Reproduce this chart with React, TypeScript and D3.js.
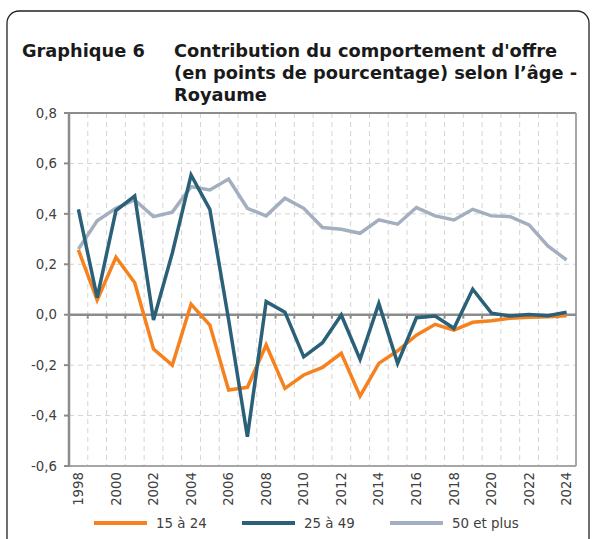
import React from "react";
import * as d3 from "d3";

const years = d3.range(1998, 2025).map(String);
const yTicks = [-0.6, -0.4, -0.2, 0, 0.2, 0.4, 0.6, 0.8];
const seriesNames = ["15 à 24", "25 à 49", "50 et plus"];
const colors = ["#F5821F", "#2A6078", "#A3AFBE"];

const s1524 = [0.257, 0.058, 0.228, 0.127, -0.136, -0.2, 0.042, -0.041, -0.299, -0.288, -0.12, -0.292, -0.239, -0.209, -0.153, -0.323, -0.193, -0.143, -0.081, -0.038, -0.061, -0.03, -0.024, -0.014, -0.01, -0.008, -0.004];
const s2549 = [0.418, 0.068, 0.413, 0.471, -0.021, 0.244, 0.554, 0.418, -0.02, -0.484, 0.052, 0.01, -0.167, -0.111, -0.001, -0.177, 0.045, -0.193, -0.012, -0.005, -0.054, 0.101, 0.006, -0.005, 0.001, -0.004, 0.01];
const s50 = [0.26, 0.373, 0.422, 0.455, 0.389, 0.407, 0.508, 0.495, 0.538, 0.422, 0.392, 0.462, 0.422, 0.346, 0.339, 0.323, 0.376, 0.359, 0.425, 0.392, 0.376, 0.418, 0.392, 0.389, 0.356, 0.273, 0.217];
const series = [s1524, s2549, s50];

const W = 595, H = 539;
const left = 69, right = 576, top = 113, bottom = 466;
const font = "'DejaVu Sans', sans-serif";

export default function App() {
  const x = d3.scaleBand<string>().domain(years).range([left, right]).padding(0);
  const y = d3.scaleLinear().domain([-0.6, 0.8]).range([bottom, top]);
  const cx = (yr: string) => (x(yr) as number) + x.bandwidth() / 2;
  const line = d3.line<number>().x((_, i) => cx(years[i])).y(d => y(d));
  const fmt = (v: number) => d3.format(".1f")(v).replace(".", ",").replace("−", "-");
  const boundaries = d3.range(1, years.length).map(i => left + i * x.bandwidth());

  return (
    <svg width={W} height={H} style={{ position: "absolute", left: 0, top: 0 }} fontFamily={font}>
      <rect x={0} y={0} width={W} height={H} fill="#fff" />
      <rect x={7} y={11} width={582} height={560} rx={12} ry={12} fill="none" stroke="#222" strokeWidth={1.3} />
      <g fontWeight="bold" fontSize={17.8} fill="#1a1a1a">
        <text x={22} y={57}>Graphique 6</text>
        <text x={174} y={57}>Contribution du comportement d'offre</text>
        <text x={174} y={79}>(en points de pourcentage) selon l’âge -</text>
        <text x={174} y={101}>Royaume</text>
      </g>
      {/* grid */}
      <g stroke="#d4d4d4" strokeWidth={1} strokeDasharray="5,4">
        {yTicks.filter(t => t !== 0 && t !== 0.8 && t !== -0.6).map(t => (
          <line key={"h" + t} x1={left} x2={right} y1={y(t)} y2={y(t)} />
        ))}
        {boundaries.map((b, i) => (
          <line key={"v" + i} x1={b} x2={b} y1={top} y2={bottom} />
        ))}
      </g>
      {/* frame */}
      <line x1={left} x2={right} y1={top} y2={top} stroke="#8c8c8c" strokeWidth={2} />
      <line x1={right} x2={right} y1={top} y2={bottom} stroke="#a6a6a6" strokeWidth={2} />
      <line x1={left} x2={right} y1={bottom} y2={bottom} stroke="#a6a6a6" strokeWidth={2} />
      <line x1={left} x2={left} y1={top - 1} y2={bottom + 1} stroke="#8c8c8c" strokeWidth={2.5} />
      {yTicks.map(t => (
        <g key={"yt" + t}>
          <line x1={left - 5} x2={left} y1={y(t)} y2={y(t)} stroke="#8c8c8c" strokeWidth={2} />
          <text x={57} y={y(t)} dy="0.35em" textAnchor="end" fontSize={13.3} fill="#404040">{fmt(t)}</text>
        </g>
      ))}
      <line x1={left} x2={right} y1={y(0)} y2={y(0)} stroke="#8c8c8c" strokeWidth={2.5} />
      {boundaries.map((b, i) => (
        <line key={"xt" + i} x1={b} x2={b} y1={y(0)} y2={y(0) + 4} stroke="#8c8c8c" strokeWidth={2} />
      ))}
      {years.filter((_, i) => i % 2 === 0).map(yr => (
        <text key={"xl" + yr} transform={`translate(${cx(yr)},${bottom + 6}) rotate(-90)`} dy="0.35em" textAnchor="end" fontSize={13.3} fill="#404040">{yr}</text>
      ))}
      {/* lines */}
      {[2, 0, 1].map(k => (
        <path key={"s" + k} d={line(series[k]) || ""} fill="none" stroke={colors[k]} strokeWidth={3.5} strokeLinejoin="miter" />
      ))}
      {/* legend */}
      {seriesNames.map((n, i) => {
        const lx = 94 + i * 148;
        return (
          <g key={"lg" + i}>
            <line x1={lx} x2={lx + 53} y1={523} y2={523} stroke={colors[i]} strokeWidth={4} />
            <text x={lx + 62} y={523} dy="0.35em" fontSize={13.4} fill="#404040">{n}</text>
          </g>
        );
      })}
    </svg>
  );
}
